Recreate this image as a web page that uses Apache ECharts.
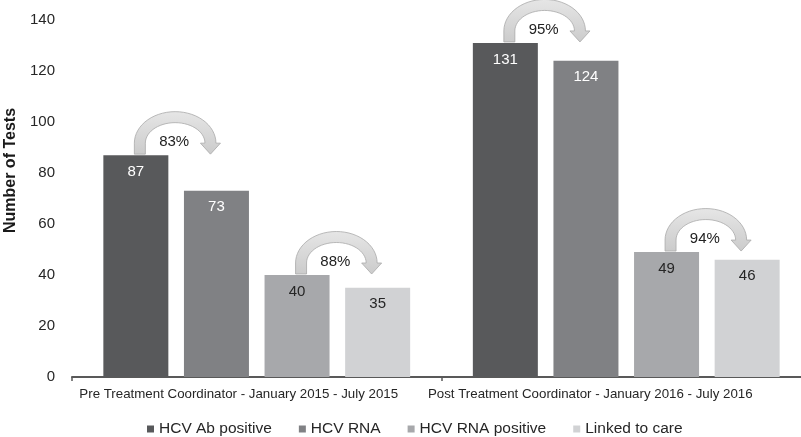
<!DOCTYPE html>
<html>
<head>
<meta charset="utf-8">
<script src="https://cdn.jsdelivr.net/npm/echarts@6/dist/echarts.min.js"></script>
<style>
html,body{margin:0;padding:0;background:#fff;}
#chart{width:801px;height:437px;}
</style>
</head>
<body>
<div id="chart"></div>
<script>
// ---- data ----
const categories = [
  'Pre Treatment Coordinator - January 2015 - July 2015',
  'Post Treatment Coordinator - January 2016 - July 2016'
];
const seriesNames = ['HCV Ab positive', 'HCV RNA', 'HCV RNA positive', 'Linked to care'];
const abPositive   = [87, 131];
const rnaTested    = [73, 124];
const rnaPositive  = [40, 49];
const linkedToCare = [35, 46];
const yMin = 0, yMax = 140, yInterval = 20;

// conversion arrows: category index, series the arrow starts from, label
const arrowCategory   = [0, 0, 1, 1];
const arrowFromSeries = [0, 2, 0, 2];
const arrowLabels     = ['83%', '88%', '95%', '94%'];

// ---- styling ----
const FONT = '"Liberation Sans", Arial, sans-serif';
const colors = ['#58595b', '#808184', '#a7a8ab', '#d1d2d4'];
const labelColors = ['#ffffff', '#ffffff', '#262626', '#262626'];
const BAR_W = 65, BAR_GAP = 0.24;

const allValues = [abPositive, rnaTested, rnaPositive, linkedToCare];

const barSeries = seriesNames.map((name, i) => ({
  name: name,
  type: 'bar',
  data: allValues[i],
  barWidth: BAR_W,
  barGap: (BAR_GAP * 100) + '%',
  itemStyle: { color: colors[i] },
  label: {
    show: true,
    position: 'insideTop',
    distance: 9,
    color: labelColors[i],
    fontFamily: FONT,
    fontSize: 15
  },
  z: 2
}));

const arrowData = arrowCategory.map((c, k) => [c, allValues[arrowFromSeries[k]][c], arrowFromSeries[k]]);

function renderArrow(params, api) {
  const cat = api.value(0), v = api.value(1), from = api.value(2);
  const p = api.coord([cat, v]);
  const n = seriesNames.length;
  const gap = BAR_W * BAR_GAP;
  const total = n * BAR_W + (n - 1) * gap;
  const xa = p[0] - total / 2 + BAR_W / 2 + from * (BAR_W + gap);
  const xb = xa + BAR_W + gap;
  const ya = p[1];

  const legX = xa + 4, tipX = xb - 6;
  const cx = (legX + tipX) / 2, rx = (tipX - legX) / 2;
  const cy = ya - 12, ry = 26;
  const t = 5.5, hw = 10, hl = 11;
  const pts = [];
  pts.push([legX - t, ya - 1]);
  const steps = 30, phiE = 0;
  for (let s = 0; s <= steps; s++) {
    const phi = Math.PI + (phiE - Math.PI) * s / steps;
    pts.push([cx + (rx + t) * Math.cos(phi), cy - (ry + t) * Math.sin(phi)]);
  }
  const ex = cx + rx * Math.cos(phiE), ey = cy - ry * Math.sin(phiE);
  let tx = rx * Math.sin(phiE), ty = ry * Math.cos(phiE);
  const tl = Math.sqrt(tx * tx + ty * ty); tx /= tl; ty /= tl;
  const nx = ty, ny = -tx;
  pts.push([ex + nx * hw, ey + ny * hw]);
  pts.push([ex + tx * hl, ey + ty * hl]);
  pts.push([ex - nx * hw, ey - ny * hw]);
  for (let s = steps; s >= 0; s--) {
    const phi = Math.PI + (phiE - Math.PI) * s / steps;
    pts.push([cx + (rx - t) * Math.cos(phi), cy - (ry - t) * Math.sin(phi)]);
  }
  pts.push([legX + t, ya - 1]);

  return {
    type: 'group',
    children: [
      {
        type: 'polygon',
        shape: { points: pts },
        style: {
          fill: {
            type: 'linear', x: 0, y: 0, x2: 0, y2: 1,
            colorStops: [{ offset: 0, color: '#e6e6e6' }, { offset: 1, color: '#cbcbcb' }]
          },
          stroke: '#a9a9a9',
          lineWidth: 0.8
        }
      },
      {
        type: 'text',
        style: {
          text: arrowLabels[params.dataIndex],
          x: cx - 1,
          y: ya - 13,
          align: 'center',
          verticalAlign: 'middle',
          fill: '#222',
          font: '15px ' + FONT
        }
      }
    ]
  };
}

const labelRich = {
  c0: { fontFamily: FONT, fontSize: 13.3, color: '#262626', padding: [0, 36, 0, 0] },
  c1: { fontFamily: FONT, fontSize: 13.3, color: '#262626', padding: [0, 72, 0, 0] }
};

const chart = echarts.init(document.getElementById('chart'), null, { renderer: 'canvas' });
chart.setOption({
  animation: false,
  backgroundColor: '#ffffff',
  textStyle: { fontFamily: FONT },
  grid: { left: 72, width: 739, top: 20, bottom: 60, containLabel: false, outerBoundsMode: 'none' },
  legend: {
    data: seriesNames,
    left: 142,
    top: 416,
    icon: 'rect',
    itemWidth: 7,
    itemHeight: 7,
    itemGap: 27,
    textStyle: { fontFamily: FONT, fontSize: 15.5, color: '#262626' }
  },
  xAxis: {
    type: 'category',
    data: categories,
    axisLine: { show: true, lineStyle: { color: '#595959', width: 2 } },
    axisTick: { show: true, length: 4, lineStyle: { color: '#595959', width: 1.5 } },
    axisLabel: {
      interval: 0,
      hideOverlap: false,
      color: '#262626',
      fontFamily: FONT,
      fontSize: 13.3,
      margin: 11,
      formatter: function (value, index) { return '{c' + index + '|' + value + '}'; },
      rich: labelRich
    },
    splitLine: { show: false }
  },
  yAxis: {
    type: 'value',
    min: yMin,
    max: yMax,
    interval: yInterval,
    name: 'Number of Tests',
    nameLocation: 'middle',
    nameGap: 52,
    nameRotate: 90,
    nameTextStyle: {
      fontFamily: FONT,
      fontSize: 16,
      fontWeight: 'bold',
      color: '#1a1a1a',
      padding: [0, 0, 0, 56]
    },
    axisLine: { show: false },
    axisTick: { show: false },
    splitLine: { show: false },
    axisLabel: { color: '#262626', fontFamily: FONT, fontSize: 15, margin: 17 }
  },
  series: barSeries.concat([{
    type: 'custom',
    name: 'conversion',
    coordinateSystem: 'cartesian2d',
    renderItem: renderArrow,
    data: arrowData,
    encode: { x: 0, y: 1 },
    silent: true,
    z: 3
  }])
});
</script>
</body>
</html>
